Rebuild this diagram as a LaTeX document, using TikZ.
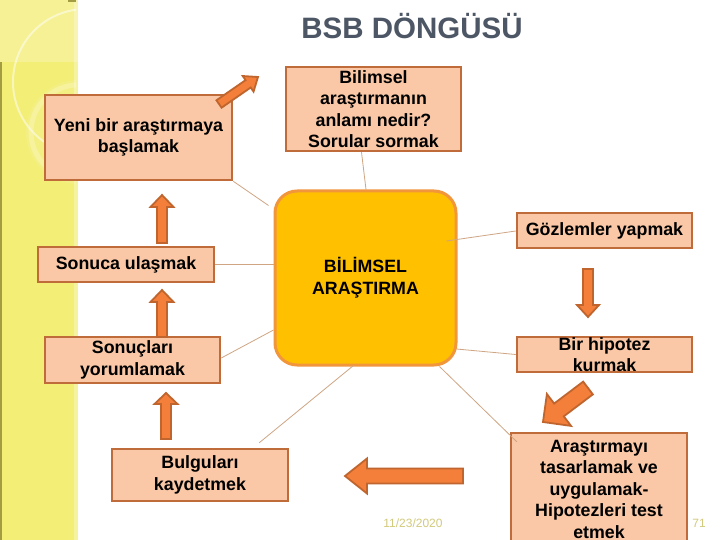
\documentclass[tikz,border=0pt]{standalone}
\usepackage{fontspec}
\setmainfont{Liberation Sans}
\usetikzlibrary{calc}
\definecolor{band}{HTML}{F3EE76}
\definecolor{bandedge}{HTML}{A39C42}
\definecolor{peach}{HTML}{FAC8A6}
\definecolor{peachedge}{HTML}{C06C3A}
\definecolor{amber}{HTML}{FFC000}
\definecolor{amberedge}{HTML}{F2963C}
\definecolor{arrfill}{HTML}{F47F3A}
\definecolor{arredge}{HTML}{BF652D}
\definecolor{linkc}{HTML}{CFA584}
\definecolor{titlec}{HTML}{4C5665}
\definecolor{footc}{HTML}{D2CA7C}
\tikzset{
  stepbox/.style={draw=peachedge, fill=peach, line width=2.5pt, inner sep=0pt,
    align=center, font=\bfseries\fontsize{17.8}{21.5}\selectfont},
  centerbox/.style={draw=amberedge, fill=amber, line width=3pt, rounded corners=22pt,
    inner sep=0pt, align=center, font=\bfseries\fontsize{17.8}{22}\selectfont},
  link/.style={draw=linkc, line width=0.8pt},
  blockarr/.style={draw=arredge, fill=arrfill, line width=1.8pt, line join=miter},
}
\newcommand\barrow[5]{% tail, tip, shaft half, head half, head length
  \coordinate (bT) at #1;
  \coordinate (bH) at #2;
  \coordinate (bB) at ($(bH)!#5!(bT)$);
  \draw[blockarr] ($(bT)!#3!90:(bH)$) -- ($(bB)!#3!-90:(bT)$) -- ($(bB)!#4!-90:(bT)$)
     -- (bH) -- ($(bB)!#4!90:(bT)$) -- ($(bB)!#3!90:(bT)$) -- ($(bT)!#3!-90:(bH)$) -- cycle;
}
\begin{document}
\begin{tikzpicture}[x=1pt,y=-1pt]
\useasboundingbox (0,0) rectangle (720,540);
\fill[white] (0,0) rectangle (720,540);
% left band
\fill[band] (0,0) rectangle (78,540);
\fill[white,opacity=0.22] (0,0) rectangle (78,62);
\fill[white,opacity=0.3] (74,0) rectangle (78,540);
\fill[bandedge] (0,62) rectangle (1.5,540);
\fill[bandedge] (68,0) rectangle (76,2);
\begin{scope}
  \clip (0,0) rectangle (76,540);
  \draw[white,opacity=0.5,line width=2pt] (86,82) circle (73);
  \fill[white,opacity=0.1] (78,132) circle (52);
  \draw[white,opacity=0.22,line width=5pt] (78,132) circle (47);
\end{scope}
% title
\node[text=titlec, font=\bfseries\fontsize{29.5}{30}\selectfont] (title) at (412,26) {BSB DÖNGÜSÜ};
% center box
\node[centerbox, minimum width=181pt, minimum height=174pt] (center) at (365.5,278)
  {BİLİMSEL\\ARAŞTIRMA};
% step boxes
\node[stepbox, minimum width=187pt, minimum height=85pt] (yeni) at (138.5,137.5)
  {Yeni bir araştırmaya\\başlamak};
\node[stepbox, minimum width=175pt, minimum height=84pt] (bilim) at (373.5,109)
  {Bilimsel\\araştırmanın\\anlamı nedir?\\Sorular sormak};
\node[stepbox, minimum width=175pt, minimum height=35pt] (gozlem) at (604.5,230.5)
  {Gözlemler yapmak};
\node[stepbox, minimum width=175pt, minimum height=35pt] (hipotez) at (604.5,354.5)
  {Bir hipotez\\kurmak};
\node[stepbox, minimum width=176pt, minimum height=112pt] (arastir) at (599,489)
  {Araştırmayı\\tasarlamak ve\\uygulamak-\\Hipotezleri test\\etmek};
\node[stepbox, minimum width=176pt, minimum height=52pt] (bulgu) at (200,475)
  {Bulguları\\kaydetmek};
\node[stepbox, minimum width=175pt, minimum height=46pt] (sonucy) at (132.5,360)
  {Sonuçları\\yorumlamak};
\node[stepbox, minimum width=176pt, minimum height=35pt] (sonuca) at (126,264.5)
  {Sonuca ulaşmak};
% thin links from the centre
\draw[link] (center.north west) ++(-5,16) coordinate (c1) -- (yeni.south east);
\draw[link] (bilim.south) ++(-12,0) -- ($(center.north)+(0.5,0)$);
\draw[link] ($(center.east)+(-11,-37)$) -- ($(gozlem.west)+(0,0.5)$);
\draw[link] ($(center.east)+(-1,71)$) -- ($(hipotez.west)+(0,0)$);
\draw[link] ($(center.south east)+(-18,0)$) -- ($(arastir.north west)+(7,10)$);
\draw[link] ($(center.south)+(-12,-1)$) -- ($(bulgu.north east)+(-30,-5)$);
\draw[link] (sonuca.east) -- (center.west |- sonuca.east);
\draw[link] ($(sonucy.east)+(0,-2)$) -- ($(center.west)+(0,52)$);
% block arrows
\barrow{(219,104)}{(258,77)}{4.5pt}{9.5pt}{12pt}
\barrow{(162,243)}{(162,195)}{5pt}{11.5pt}{12pt}
\barrow{(162,337)}{(162,290)}{5pt}{11.5pt}{12pt}
\barrow{(166,439)}{(166,393)}{5pt}{11.5pt}{11pt}
\barrow{(588,269)}{(588,317)}{5pt}{11pt}{12pt}
\barrow{(588,388)}{(543,422)}{8pt}{20pt}{20pt}
\barrow{(463,476)}{(345,476)}{7.5pt}{17.5pt}{22pt}
% footer
\node[text=footc, font=\fontsize{12}{12}\selectfont] (date) at (413,523) {11/23/2020};
\node[text=footc, font=\fontsize{12}{12}\selectfont] (pnum) at (699,523) {71};
\end{tikzpicture}
\end{document}
